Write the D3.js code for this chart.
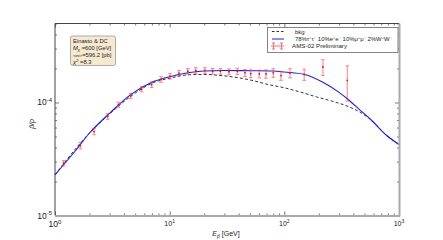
<!DOCTYPE html>
<html><head><meta charset="utf-8">
<script src="https://cdn.jsdelivr.net/npm/d3@7"></script>
<style>body{margin:0;background:#fff} svg{display:block;font-family:"Liberation Sans",Arial,sans-serif}</style>
</head><body><svg id="c" width="443" height="240"></svg>
<script>
// AMS-02 data points (E in GeV, pbar/p ratio, symmetric error)
const dataE = [1.19,1.66,2.19,2.88,3.57,4.57,5.7,6.97,8.4,10.07,12.06,14.4,16.9,20.3,23.7,27.7,32.9,38.9,45.4,50.9,60.5,69.2,80.1,93.5,112,149,217,354];
const dataRatio = [2.9e-5,4.16e-5,5.53e-5,7.52e-5,9.55e-5,1.14e-4,1.31e-4,1.44e-4,1.60e-4,1.71e-4,1.82e-4,1.89e-4,1.92e-4,1.92e-4,1.89e-4,1.89e-4,1.87e-4,1.89e-4,1.83e-4,1.80e-4,1.79e-4,1.79e-4,1.83e-4,1.73e-4,1.82e-4,1.77e-4,2.06e-4,1.57e-4];
const dataErr = [0.16e-5,0.27e-5,0.35e-5,0.42e-5,0.5e-5,0.6e-5,0.7e-5,0.8e-5,0.9e-5,1.0e-5,1.0e-5,1.1e-5,1.1e-5,1.1e-5,1.1e-5,1.1e-5,1.1e-5,1.2e-5,1.3e-5,1.4e-5,1.4e-5,1.5e-5,1.6e-5,1.6e-5,1.7e-5,2.0e-5,3.3e-5,5.4e-5];
// model curve: background + DM
const fitE = [1,1.5,2,3,4.57,7,10,15,20,30,50,80,100,150,217,300,354,450,578,781,1000];
const fitRatio = [2.29e-5,3.72e-5,5.37e-5,8.04e-5,1.175e-4,1.51e-4,1.69e-4,1.84e-4,1.90e-4,1.92e-4,1.91e-4,1.90e-4,1.86e-4,1.77e-4,1.51e-4,1.23e-4,1.08e-4,8.7e-5,6.93e-5,5.1e-5,4.25e-5];
// background only
const bkgE = [1,2,3,5,7,10,15,20,30,50,75,100,137,191,267,372,458,578,781,1000];
const bkgRatio = [2.29e-5,5.37e-5,7.94e-5,1.21e-4,1.48e-4,1.64e-4,1.76e-4,1.77e-4,1.72e-4,1.585e-4,1.43e-4,1.35e-4,1.24e-4,1.12e-4,1.02e-4,9.1e-5,8.2e-5,6.93e-5,5.1e-5,4.25e-5];
const xTickExps = ["0","1","2","3"];
const yTickExps = ["-5","-4"];
const legendLabels = ["bkg","78%τ⁺τ⁻ 10%e⁺e⁻ 10%μ⁺μ⁻ 2%W⁺W⁻","AMS-02 Preliminary"];
const infoLines = ["Einasto & DC","M","σv","χ"];

const L=55,R=399,T=23.5,B=215.5;
const svg=d3.select("#c");
const x=d3.scaleLog().domain([1,1000]).range([L,R]);
const y=d3.scaleLog().domain([1e-5,5e-4]).range([B,T]);

const xMaj=[1,10,100,1000], xMin=[];
[1,10,100].forEach(d=>{for(let k=2;k<=9;k++)xMin.push(d*k);});
const yMaj=[1e-5,1e-4], yMin=[];
for(let k=2;k<=9;k++)yMin.push(k*1e-5);
for(let k=2;k<=5;k++)yMin.push(k*1e-4);

function ax(gen,tr,vals,size){
  const g=svg.append("g").attr("transform",tr).call(gen.tickValues(vals).tickSizeInner(size).tickSizeOuter(0).tickFormat(""));
  g.select(".domain").remove();
  g.selectAll("line").attr("stroke","#555").attr("stroke-width",0.8);
}
ax(d3.axisBottom(x),`translate(0,${B})`,xMaj,-4);
ax(d3.axisBottom(x),`translate(0,${B})`,xMin,-2);
ax(d3.axisTop(x),`translate(0,${T})`,xMaj,-4);
ax(d3.axisTop(x),`translate(0,${T})`,xMin,-2);
ax(d3.axisLeft(y),`translate(${L},0)`,yMaj,-4);
ax(d3.axisLeft(y),`translate(${L},0)`,yMin,-2);
ax(d3.axisRight(y),`translate(${R},0)`,yMaj,-4);
ax(d3.axisRight(y),`translate(${R},0)`,yMin,-2);

// curves
const line=d3.line().x(d=>x(d[0])).y(d=>y(d[1])).curve(d3.curveMonotoneX);
svg.append("path").attr("d",line(bkgE.map((e,i)=>[e,bkgRatio[i]])))
  .attr("fill","none").attr("stroke","#333").attr("stroke-width",1).attr("stroke-dasharray","3,2.2");
svg.append("path").attr("d",line(fitE.map((e,i)=>[e,fitRatio[i]])))
  .attr("fill","none").attr("stroke","#1a1aff").attr("stroke-width",1.1);

// data
const pts=svg.append("g");
dataE.forEach((e,i)=>{
  const cx=x(e), y1=y(dataRatio[i]+dataErr[i]), y2=y(dataRatio[i]-dataErr[i]);
  const g=pts.append("g").attr("stroke","#ff3030").attr("stroke-width",1).attr("opacity",0.6);
  g.append("line").attr("x1",cx).attr("x2",cx).attr("y1",y1).attr("y2",y2);
  g.append("line").attr("x1",cx-1.8).attr("x2",cx+1.8).attr("y1",y1).attr("y2",y1);
  g.append("line").attr("x1",cx-1.8).attr("x2",cx+1.8).attr("y1",y2).attr("y2",y2);
  pts.append("circle").attr("cx",cx).attr("cy",y(dataRatio[i])).attr("r",0.9).attr("fill","#ff0000");
});

// frame
svg.append("line").attr("x1",L).attr("x2",L).attr("y1",T).attr("y2",B).attr("stroke","#444").attr("stroke-width",1);
svg.append("line").attr("x1",L).attr("x2",R).attr("y1",T).attr("y2",T).attr("stroke","#444").attr("stroke-width",1);
svg.append("line").attr("x1",L).attr("x2",R+1).attr("y1",B+0.5).attr("y2",B+0.5).attr("stroke","#aaa").attr("stroke-width",2);
svg.append("line").attr("x1",R+0.5).attr("x2",R+0.5).attr("y1",T).attr("y2",B+1).attr("stroke","#aaa").attr("stroke-width",2);

// tick labels
xMaj.forEach((v,i)=>{
  const fs = i===0?8.5:7;
  const t=svg.append("text").attr("x",x(v)).attr("y",B+(i===0?11:10)).attr("text-anchor","middle").attr("font-size",fs).attr("fill","#222");
  t.append("tspan").text("10");
  t.append("tspan").attr("dy",-3).attr("font-size",fs*0.72).text(xTickExps[i]);
});
yMaj.forEach((v,i)=>{
  const t=svg.append("text").attr("x",L-3).attr("y",y(v)+3).attr("text-anchor","end").attr("font-size",8.5).attr("fill","#222");
  t.append("tspan").text("10");
  t.append("tspan").attr("dy",-3.5).attr("font-size",6).text(yTickExps[i]);
});

// axis labels
const xl=svg.append("text").attr("x",226).attr("y",236).attr("text-anchor","middle").attr("font-size",7).attr("fill","#222");
xl.append("tspan").attr("font-style","italic").text("E");
xl.append("tspan").attr("dy",1.5).attr("font-size",5).attr("font-style","italic").text("p̄");
xl.append("tspan").attr("dy",-1.5).text(" [GeV]");
svg.append("text").attr("transform","translate(34,124) rotate(-90)").attr("text-anchor","middle")
  .attr("font-size",7).attr("font-style","italic").attr("fill","#222").text("p̄/p");

// info box
svg.append("rect").attr("x",70.5).attr("y",36).attr("width",45).attr("height",29.5).attr("rx",2)
  .attr("fill","#f7e9cf").attr("stroke","#999").attr("stroke-width",0.8);
const ib=svg.append("g").attr("font-size",5.8).attr("fill","#222");
ib.append("text").attr("x",73).attr("y",43).text(infoLines[0]);
const m=ib.append("text").attr("x",73).attr("y",50);
m.append("tspan").attr("font-style","italic").text(infoLines[1]);
m.append("tspan").attr("dy",1.2).attr("font-size",4).attr("font-style","italic").text("χ");
m.append("tspan").attr("dy",-1.2).text(" =600 [GeV]");
const s=ib.append("text").attr("x",73).attr("y",57);
s.append("tspan").attr("font-size",4).text("<"+infoLines[2]+">");
s.append("tspan").text("=596.2 [pb]");
const c=ib.append("text").attr("x",73).attr("y",63.5);
c.append("tspan").attr("font-style","italic").text(infoLines[3]);
c.append("tspan").attr("dy",-2).attr("font-size",4).text("2");
c.append("tspan").attr("dy",2).text(" =8.3");

// legend
svg.append("rect").attr("x",267.5).attr("y",27.5).attr("width",130.5).attr("height",25).attr("fill","#fff").attr("stroke","#666").attr("stroke-width",0.8);
const lg=svg.append("g").attr("font-size",6).attr("fill","#222");
lg.append("line").attr("x1",272).attr("x2",284).attr("y1",31.5).attr("y2",31.5).attr("stroke","#333").attr("stroke-dasharray","2.5,2");
lg.append("text").attr("x",295).attr("y",33.5).text(legendLabels[0]);
lg.append("line").attr("x1",272).attr("x2",284).attr("y1",39).attr("y2",39).attr("stroke","#1a1aff").attr("stroke-width",1);
lg.append("text").attr("x",295).attr("y",41).attr("font-size",5).attr("textLength",97).attr("lengthAdjust","spacingAndGlyphs").text(legendLabels[1]);
const eg=lg.append("g").attr("stroke","#ff3030").attr("stroke-width",1).attr("opacity",0.7);
eg.append("line").attr("x1",271).attr("x2",284).attr("y1",46).attr("y2",46);
[273.5,281.5].forEach(cx=>{
  eg.append("line").attr("x1",cx).attr("x2",cx).attr("y1",43).attr("y2",49);
  eg.append("line").attr("x1",cx-1.5).attr("x2",cx+1.5).attr("y1",43).attr("y2",43);
  eg.append("line").attr("x1",cx-1.5).attr("x2",cx+1.5).attr("y1",49).attr("y2",49);
});
lg.append("text").attr("x",292).attr("y",48).attr("font-size",6.2).text(legendLabels[2]);
</script></body></html>
